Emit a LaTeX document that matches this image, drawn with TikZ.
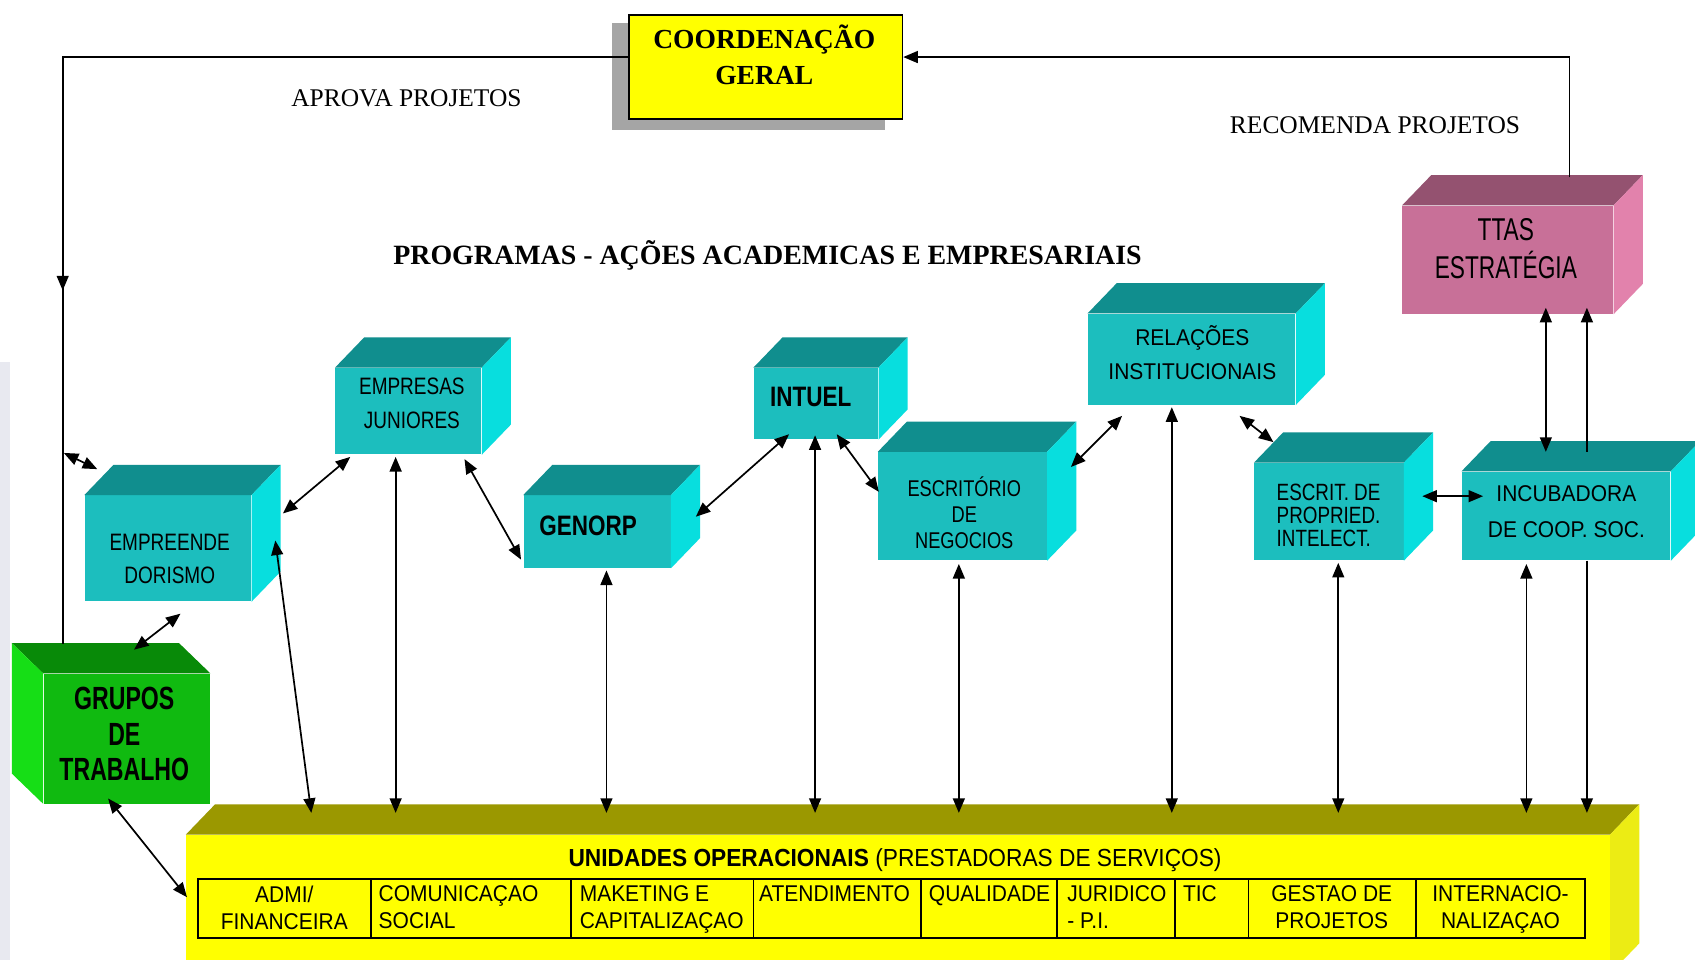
\documentclass[tikz,border=0pt]{standalone}
\usepackage{fontspec}
\setmainfont{Liberation Serif}
\newfontfamily\boxsf[FakeStretch=0.8]{Liberation Sans}
\newfontfamily\largsf[FakeStretch=0.92]{Liberation Sans}
\newfontfamily\estreitosf[FakeStretch=0.72]{Liberation Sans}
\usepackage{tikz}
\usetikzlibrary{calc}
\usetikzlibrary{arrows.meta}
\usetikzlibrary{decorations.markings}

\definecolor{cyanfront}{RGB}{28,190,190}
\definecolor{cyantop}{RGB}{16,142,142}
\definecolor{cyanside}{RGB}{8,222,222}
\definecolor{pinkfront}{RGB}{200,112,152}
\definecolor{pinktop}{RGB}{148,82,112}
\definecolor{pinkside}{RGB}{226,130,172}
\definecolor{greenfront}{RGB}{16,186,16}
\definecolor{greentop}{RGB}{8,138,8}
\definecolor{greenside}{RGB}{22,222,22}
\definecolor{yelfront}{RGB}{255,255,0}
\definecolor{yeltop}{RGB}{155,152,0}
\definecolor{yelside}{RGB}{236,236,20}
\definecolor{sombra}{RGB}{165,165,165}
\definecolor{faixa}{RGB}{232,233,240}

\begin{document}
\begin{tikzpicture}[x=0.02cm,y=-0.02cm,
    >={Triangle[length=0.27cm,width=0.22cm]},
    seta/.style={line width=0.9pt},
    caixa/.style={inner sep=0,anchor=north west,fill=#1}]

    % The slide
    \useasboundingbox (0,0) rectangle (1568,888);
    \clip (0,0) rectangle (1568,888);
    \fill[white] (0,0) rectangle (1568,888);
    \fill[faixa] (0,335) rectangle (9,888);

    % Coordenacao with its shadow
    \fill[sombra] (566,21) rectangle (819,120);
    \node[caixa=yelfront,draw=black,line width=0.9pt,minimum width=5.06cm,minimum height=1.92cm] (coord) at (581,13) {};

    % Place the boxes (front faces)
    \node[caixa=cyanfront,minimum width=3.08cm,minimum height=1.96cm] (empre)  at (78,458)   {};
    \node[caixa=cyanfront,minimum width=2.70cm,minimum height=1.60cm] (empjr)  at (310,340)  {};
    \node[caixa=cyanfront,minimum width=2.72cm,minimum height=1.34cm] (genorp) at (484,458)  {};
    \node[caixa=cyanfront,minimum width=2.30cm,minimum height=1.32cm] (intuel) at (697,340)  {};
    \node[caixa=cyanfront,minimum width=3.12cm,minimum height=2.00cm] (escneg) at (812,418)  {};
    \node[caixa=cyanfront,minimum width=3.84cm,minimum height=1.68cm] (relac)  at (1006,290) {};
    \node[caixa=cyanfront,minimum width=2.76cm,minimum height=1.80cm] (escpi)  at (1160,428) {};
    \node[caixa=cyanfront,minimum width=3.86cm,minimum height=1.64cm] (incub)  at (1352,436) {};
    \node[caixa=pinkfront,minimum width=3.90cm,minimum height=2.00cm] (ttas)   at (1297,190) {};
    \node[caixa=greenfront,minimum width=3.08cm,minimum height=2.40cm] (grupos) at (40,623)  {};
    \node[caixa=yelfront,minimum width=26.34cm,minimum height=2.56cm] (unid)   at (172,772)  {};

    % Top and side faces
    \foreach \b/\ct/\cl in {empre/cyantop/cyanside, empjr/cyantop/cyanside,
        genorp/cyantop/cyanside, intuel/cyantop/cyanside, escneg/cyantop/cyanside,
        relac/cyantop/cyanside, escpi/cyantop/cyanside, incub/cyantop/cyanside,
        ttas/pinktop/pinkside, unid/yeltop/yelside}{
        \fill[\ct] (\b.north west) -- ++(27,-28) -- ($(\b.north east)+(27,-28)$) -- (\b.north east) -- cycle;
        \fill[\cl] (\b.north east) -- ++(27,-28) -- ($(\b.south east)+(27,-28)$) -- (\b.south east) -- cycle;
    }
    \fill[greentop] (grupos.north west) -- ++(-29,-28) -- ($(grupos.north east)+(-29,-28)$) -- (grupos.north east) -- cycle;
    \fill[greenside] (grupos.north west) -- ++(-29,-28) -- ($(grupos.south west)+(-29,-28)$) -- (grupos.south west) -- cycle;

    % Table of the unidades
    \draw[line width=0.9pt] (183,813) rectangle (1466,868);
    \foreach \x in {343,528,697,852,978,1087,1155,1310}
        \draw[line width=0.9pt] (\x,813) -- (\x,868);

    % Draw the lines
    \draw[seta,postaction={decorate,decoration={markings,mark=at position 0.693 with {\arrow{>}}}}]
        ($(coord.west)+(0,-9)$) -| ($(grupos.north west)+(18,-27)$);
    \draw[seta,->] ($(ttas.north west)+(155,-26)$) |- ($(coord.east)+(0,-9)$);
    \coordinate (esq) at (59,419);
    \draw[seta,<->] (esq) -- ($(empre.north west)+(12,-24)$);
    \draw[seta,<->] ($(empre.north east)+(29,17)$) -- ($(empjr.south west)+(14,2)$);
    \draw[seta,<->] ($(empjr.south west)+(56,2)$) -- ($(unid.north west)+(194,-20)$);
    \draw[seta,<->] ($(empjr.south east)+(-16,4)$) -- ($(genorp.south west)+(-2,-8)$);
    \draw[seta,<->] ($(empre.north east)+(22,42)$) -- ($(unid.north west)+(116,-20)$);
    \draw[seta,<->] ($(empre.south west)+(89,11)$) -- ($(grupos.north west)+(84,-22)$);
    \draw[seta,<->] ($(grupos.south west)+(60,-5)$) -- ($(unid.north west)+(1,58)$);
    \draw[seta,<->] ($(genorp.south west)+(77,2)$) -- ($(unid.north west)+(389,-20)$);
    \draw[seta,<->] ($(genorp.north east)+(23,20)$) -- ($(intuel.south west)+(33,-5)$);
    \draw[seta,<->] ($(intuel.south west)+(57,-4)$) -- ($(unid.north west)+(582,-20)$);
    \draw[seta,<->] ($(intuel.south west)+(77,-5)$) -- ($(escneg.north west)+(1,37)$);
    \draw[seta,<->] ($(escneg.north east)+(22,14)$) -- ($(relac.south west)+(32,10)$);
    \draw[seta,<->] ($(escneg.south west)+(75,3)$) -- ($(unid.north west)+(715,-20)$);
    \draw[seta,<->] ($(relac.south west)+(78,2)$) -- ($(unid.north west)+(912,-20)$);
    \draw[seta,<->] ($(relac.south east)+(-52,10)$) -- ($(escpi.north west)+(18,-19)$);
    \draw[seta,<->] ($(escpi.south west)+(78,2)$) -- ($(unid.north west)+(1066,-20)$);
    \draw[seta,<->] ($(escpi.north east)+(17,31)$) -- ($(incub.north west)+(20,23)$);
    \draw[seta,<->] ($(ttas.south west)+(133,-6)$) -- ($(incub.north west)+(78,-18)$);
    \draw[seta,->] ($(incub.north west)+(116,-18)$) -- ($(ttas.south west)+(171,-6)$);
    \draw[seta,->] ($(incub.south west)+(116,0)$) -- ($(unid.north west)+(1296,-20)$);
    \draw[seta,<->] ($(incub.south west)+(60,3)$) -- ($(unid.north west)+(1240,-20)$);

    % Finally the texts
    \node[font=\bfseries\fontsize{14.5}{18.8}\selectfont,align=center] (t-coord) at (707,51) {COORDENAÇÃO\\GERAL};
    \node[font=\fontsize{13.4}{16}\selectfont] (t-aprova) at (376,91) {APROVA PROJETOS};
    \node[font=\fontsize{13.4}{16}\selectfont] (t-recom) at (1272,116) {RECOMENDA PROJETOS};
    \node[font=\bfseries\fontsize{14.7}{17}\selectfont] (t-prog) at (710,236) {PROGRAMAS - AÇÕES ACADEMICAS E EMPRESARIAIS};
    \node[font=\boxsf\fontsize{12.5}{17}\selectfont,align=center] (t-empre) at (157,517) {EMPREENDE\\DORISMO};
    \node[font=\boxsf\fontsize{12.5}{17.6}\selectfont,align=center] (t-empjr) at (381,373) {EMPRESAS\\JUNIORES};
    \node[font=\boxsf\bfseries\fontsize{14.8}{17}\selectfont] (t-genorp) at (544,486) {GENORP};
    \node[font=\boxsf\bfseries\fontsize{14.8}{17}\selectfont] (t-intuel) at (750,367) {INTUEL};
    \node[font=\boxsf\fontsize{12}{13.7}\selectfont,align=center] (t-escneg) at (892,474) {ESCRITÓRIO\\DE\\NEGOCIOS};
    \node[font=\largsf\fontsize{12}{18.2}\selectfont,align=center] (t-relac) at (1103,326) {RELAÇÕES\\INSTITUCIONAIS};
    \node[font=\boxsf\fontsize{12.4}{12}\selectfont,align=left] (t-escpi) at (1229,477) {ESCRIT. DE\\PROPRIED.\\INTELECT.};
    \node[font=\largsf\fontsize{12}{18.8}\selectfont,align=center] (t-incub) at (1449,473) {INCUBADORA\\DE COOP. SOC.};
    \node[font=\estreitosf\fontsize{16.6}{20}\selectfont,align=center] (t-ttas) at (1393,230) {TTAS\\ESTRATÉGIA};
    \node[font=\estreitosf\bfseries\fontsize{16.9}{18.8}\selectfont,align=center] (t-grupos) at (115,679) {GRUPOS\\DE\\TRABALHO};
    \node[font=\largsf\fontsize{13}{15}\selectfont] (t-unid) at (828,796) {\textbf{UNIDADES OPERACIONAIS} (PRESTADORAS DE SERVIÇOS)};

    % The cells of the table
    \node[font=\largsf\fontsize{12}{14.2}\selectfont,inner sep=0,anchor=north,align=center] (c1) at (263,819) {ADMI/\\FINANCEIRA};
    \node[font=\largsf\fontsize{12}{14.2}\selectfont,inner sep=0,anchor=north west,align=left] (c2) at (350,819) {COMUNICAÇAO\\SOCIAL};
    \node[font=\largsf\fontsize{12}{14.2}\selectfont,inner sep=0,anchor=north west,align=left] (c3) at (536,819) {MAKETING E\\CAPITALIZAÇAO};
    \node[font=\largsf\fontsize{12}{14.2}\selectfont,inner sep=0,anchor=north west] (c4) at (702,819) {ATENDIMENTO};
    \node[font=\largsf\fontsize{12}{14.2}\selectfont,inner sep=0,anchor=north west] (c5) at (859,819) {QUALIDADE};
    \node[font=\largsf\fontsize{12}{14.2}\selectfont,inner sep=0,anchor=north west,align=left] (c6) at (987,819) {JURIDICO\\- P.I.};
    \node[font=\largsf\fontsize{12}{14.2}\selectfont,inner sep=0,anchor=north west] (c7) at (1094,819) {TIC};
    \node[font=\largsf\fontsize{12}{14.2}\selectfont,inner sep=0,anchor=north,align=center] (c8) at (1232,819) {GESTAO DE\\PROJETOS};
    \node[font=\largsf\fontsize{12}{14.2}\selectfont,inner sep=0,anchor=north,align=center] (c9) at (1388,819) {INTERNACIO-\\NALIZAÇAO};

\end{tikzpicture}
\end{document}
